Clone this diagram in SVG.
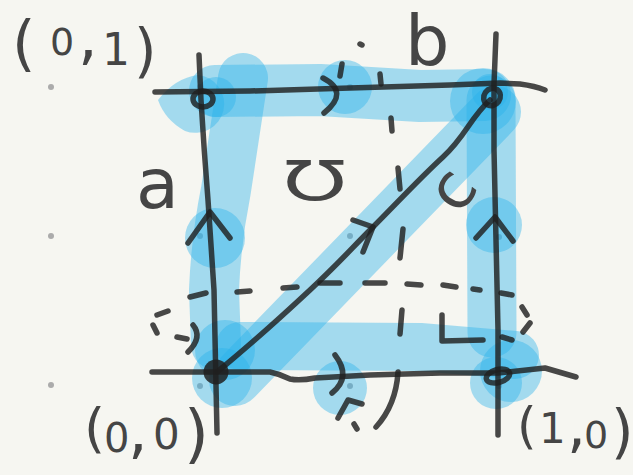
<svg xmlns="http://www.w3.org/2000/svg" width="633" height="475" viewBox="0 0 633 475">
<style>
.dot{fill:#ababab}
.hl{fill:none;stroke:#28b2eb;stroke-opacity:.4;stroke-linecap:round;stroke-linejoin:round}
.dab{fill:#28b2eb;fill-opacity:.4}
.ink{fill:none;stroke:#202020;stroke-opacity:.82;stroke-width:5.5;stroke-linecap:round;stroke-linejoin:round}
.inkf{fill:#202020;fill-opacity:.85}
.lbl{fill:#454545;font-family:"DejaVu Sans","Liberation Sans",sans-serif}
</style>
<rect width="633" height="475" fill="#f6f6f1"/>
<g id="grid">
<circle class="dot" cx="51" cy="87" r="3"/><circle class="dot" cx="51" cy="236" r="3"/><circle class="dot" cx="51" cy="385" r="3"/>
<circle class="dot" cx="200" cy="87" r="3"/><circle class="dot" cx="200" cy="236" r="3"/><circle class="dot" cx="200" cy="386" r="3"/>
<circle class="dot" cx="350" cy="87" r="3"/><circle class="dot" cx="350" cy="236" r="3"/><circle class="dot" cx="350" cy="386" r="3"/>
<circle class="dot" cx="499" cy="237" r="3"/><circle class="dot" cx="499" cy="386" r="3"/>
</g>
<g id="highlights">
<path class="hl" stroke-width="50" d="M243,78 L226,190 Q216,240 214,290 L216,345"/>
<path class="hl" stroke-width="52" d="M215,91 L320,90 L420,96 L485,95"/>
<path class="hl" stroke-width="49" d="M491,100 L492,333"/>
<path class="hl" stroke-width="52" d="M235,380 L495,112"/>
<path class="hl" stroke-width="48" d="M240,346 L420,347 L515,355"/>
<path class="dab" d="M158,100 Q175,78 198,75 A29,29 0 1 1 185,131 Q165,120 158,100 Z"/>
<circle class="dab" cx="216" cy="97" r="20"/>
<circle class="dab" cx="345" cy="87" r="27"/>
<circle class="dab" cx="483" cy="101" r="33"/>
<circle class="dab" cx="490" cy="92" r="18"/>
<circle class="dab" cx="215" cy="238" r="30"/>
<circle class="dab" cx="494" cy="225" r="28"/>
<circle class="dab" cx="225" cy="350" r="30"/>
<circle class="dab" cx="222" cy="378" r="30"/>
<circle class="dab" cx="340" cy="388" r="27"/>
<circle class="dab" cx="511" cy="371" r="31"/>
<circle class="dab" cx="496" cy="383" r="26"/>
</g>
<g id="connectors">
<path id="edge-b" class="ink" d="M155,92 L250,91 L350,88 L450,85 L500,83 L520,84 Q535,86 545,90"/>
<path id="edge-a" class="ink" d="M199,55 L201,100 Q204,150 208,200 L214,290 L217,433"/>
<path id="edge-c-right" class="ink" d="M496,34 L494,84 L494,150 L496,240 L498,330 L498,435"/>
<path id="edge-bottom" class="ink" d="M152,372 L270,372 Q280,374 290,379 Q300,381 315,378 L370,375 L440,373 L498,373 L545,368 L576,377"/>
<path id="edge-diag" class="ink" d="M217,372 C250,345 280,318 310,290 S350,250 373,227 S420,178 443,157 S470,118 490,100"/>
<path class="ink" d="M188,243 L210,212 L230,238"/>
<path class="ink" d="M476,238 L495,217 L513,241"/>
<path class="ink" d="M353,220 L373,227 L363,252"/>
<path class="ink" d="M323,78 Q350,92 324,113 M342,64 L340,76"/>
<path class="ink" d="M335,355 Q352,377 332,393"/>
<path class="ink" d="M360,44 L362,45 M380,74 L381,84 M391,118 L392,131 M398,168 L400,189 M403,229 L400,258 M402,310 L400,334"/>
<path class="ink" d="M338,418 L348,400 L362,404 M354,424 L357,429 M398,372 Q396,405 376,427"/>
<path class="ink" d="M190,297 L206,293 M237,292 L250,291 M283,288 L297,287 M320,283 L340,283 M365,283 L385,283 M407,284 L421,285 M443,285 L456,287 M473,289 L480,290 M501,293 L512,295"/>
<path class="ink" d="M157,315 L168,311 M153,325 L157,333 M177,337 L187,339 M193,325 Q203,337 188,352"/>
<path class="ink" d="M522,307 L527,315 M530,323 L523,332 M502,337 L512,340"/>
<path class="ink" d="M442,315 L442,341 L483,340"/>
</g>
<g id="node-01">
<ellipse class="ink" cx="203" cy="99" rx="10" ry="8"/>
<text class="lbl"><tspan x="12" y="64" font-size="60">(</tspan><tspan x="50" y="55" font-size="38">0</tspan><tspan x="78" y="58" font-size="62">,</tspan><tspan x="102" y="65" font-size="44">1</tspan><tspan x="134" y="71" font-size="58">)</tspan></text>
</g>
<g id="node-11">
<ellipse class="ink" cx="492" cy="97" rx="8" ry="9" transform="rotate(35 492 97)" stroke-width="7"/>
</g>
<g id="node-00">
<circle class="inkf" cx="216" cy="372" r="12.5"/>
<text class="lbl"><tspan x="84" y="447" font-size="54">(</tspan><tspan x="104" y="452" font-size="40">0</tspan><tspan x="128" y="452" font-size="62">,</tspan><tspan x="153" y="449" font-size="42">0</tspan><tspan x="184" y="456" font-size="64">)</tspan></text>
</g>
<g id="node-10">
<ellipse class="ink" cx="498" cy="376" rx="12" ry="6.5" stroke-width="9" transform="rotate(-15 498 376)"/>
<text class="lbl"><tspan x="517" y="443" font-size="50">(</tspan><tspan x="539" y="443" font-size="42">1</tspan><tspan x="567" y="446" font-size="60">,</tspan><tspan x="584" y="448" font-size="38">0</tspan><tspan x="611" y="452" font-size="58">)</tspan></text>
</g>
<g id="labels" class="lbl">
<text x="136" y="208" font-size="70">a</text>
<text x="405" y="65" font-size="70">b</text>
<text x="454" y="210" font-size="64" text-anchor="middle" transform="rotate(-55 454 191)">c</text>
<text x="315" y="200" font-size="55" text-anchor="middle" transform="translate(315 0) scale(1.5 1) translate(-315 0)">Ʊ</text>
</g>
</svg>
